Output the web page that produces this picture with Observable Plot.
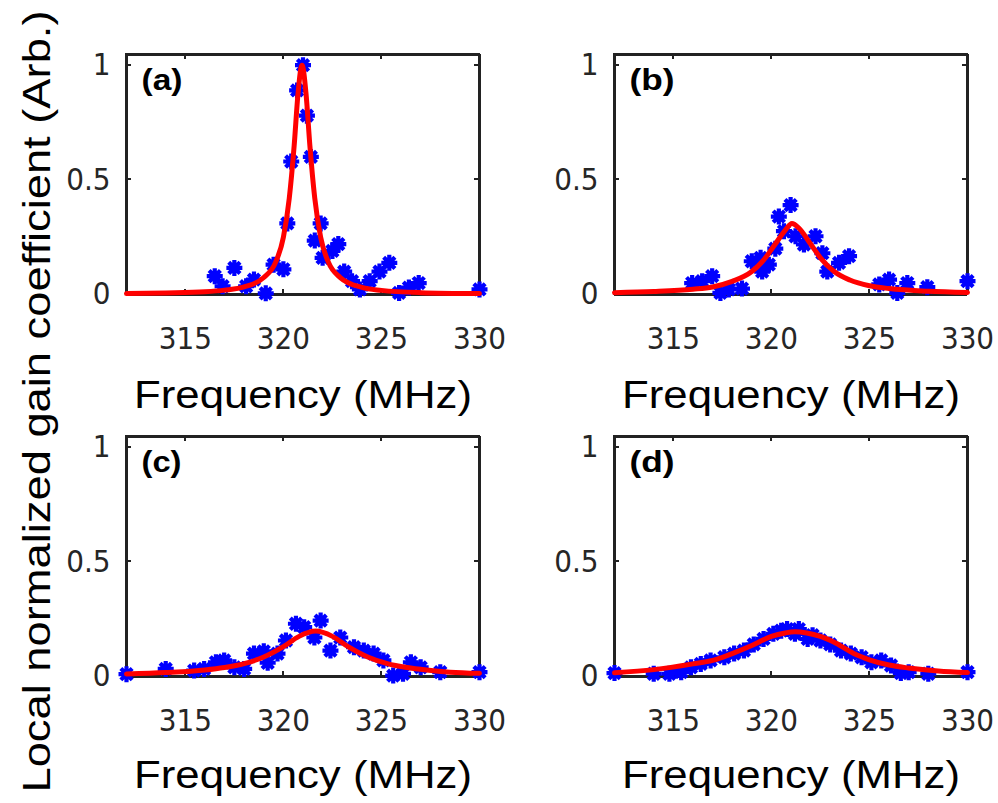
<!DOCTYPE html>
<html><head><meta charset="utf-8">
<script src="https://cdn.jsdelivr.net/npm/d3@7"></script>
<script src="https://cdn.jsdelivr.net/npm/@observablehq/plot@0.6"></script>
<style>
body{margin:0;background:#fff;}
#root{position:relative;width:998px;height:803px;overflow:hidden;background:#fff;}
.panel{position:absolute;}
</style></head><body><div id="root"></div>
<script>
// ---------- labels / ticks ----------
const xTicks = [315, 320, 325, 330];
const yTicks = [0, 0.5, 1];
const yTickLabels = ["0", "0.5", "1"];
const panelLabels = ["(a)", "(b)", "(c)", "(d)"];
const xLabel = "Frequency (MHz)";
const yLabel = "Local normalized gain coefficient (Arb.)";
const xDomain = [312, 330];
const yDomain = [0, 1.0467];

// ---------- panel (a) ----------
const freqA = [316.5,316.9,317.5,318.1,318.5,319.1,319.5,320.0,320.2,320.4,320.7,321.0,321.2,321.4,321.6,321.9,322.0,322.5,322.8,323.1,323.5,323.9,324.4,324.9,325.4,325.9,326.4,326.9,330.0];
const gainA = [0.08,0.036,0.116,0.036,0.065,0.005,0.13,0.11,0.31,0.58,0.89,1.0,0.78,0.6,0.235,0.31,0.16,0.19,0.22,0.1,0.058,0.022,0.058,0.1,0.138,0.007,0.03,0.05,0.022];
const fitFreqA = [312,314,316,317,318,319,319.6,320,320.3,320.55,320.75,320.95,321.15,321.35,321.6,321.9,322.3,322.9,324,325,327,330];
const fitGainA = [0.004,0.007,0.012,0.019,0.033,0.074,0.14,0.25,0.42,0.65,0.88,1.0,0.88,0.65,0.42,0.25,0.14,0.074,0.031,0.018,0.008,0.004];

// ---------- panel (b) ----------
const freqB = [315.96,316.47,316.98,317.4,317.83,318.5,319.0,319.45,319.53,319.87,320.2,320.38,320.98,320.64,321.23,321.66,322.25,322.6,322.85,323.45,323.96,325.5,326.0,326.42,326.93,327.95,330.0];
const gainB = [0.05,0.058,0.08,0.007,0.022,0.026,0.145,0.16,0.1,0.13,0.2,0.34,0.39,0.276,0.254,0.218,0.254,0.18,0.1,0.138,0.167,0.044,0.065,0.007,0.05,0.032,0.058];
const fitFreqB = [312,314,316,317,318,319,319.6,320.2,320.7,321.05,321.4,322,322.5,323.2,324,325,326,328,330];
const fitGainB = [0.008,0.013,0.023,0.033,0.057,0.1,0.15,0.22,0.28,0.31,0.29,0.22,0.16,0.1,0.063,0.038,0.026,0.014,0.009];

// ---------- panel (c) ----------
const freqC = [312.0,314.0,315.45,315.96,316.56,316.98,317.5,318.0,318.5,319.0,319.2,319.7,320.13,320.64,321.06,321.58,321.9,322.4,322.9,323.6,324.1,324.6,325.1,325.6,326.1,326.5,327.0,328.0,330.0];
const gainC = [0.01,0.033,0.026,0.033,0.062,0.07,0.04,0.033,0.1,0.11,0.06,0.1,0.157,0.23,0.215,0.17,0.244,0.113,0.17,0.128,0.113,0.1,0.07,0.004,0.012,0.062,0.04,0.019,0.019];
const fitFreqC = [312,314,316,317,318,319,320,320.8,321.65,322.5,323.3,324.3,325.3,326.3,327.3,328.5,330];
const fitGainC = [0.011,0.017,0.028,0.039,0.056,0.085,0.13,0.175,0.198,0.175,0.13,0.085,0.056,0.039,0.028,0.019,0.014];

// ---------- panel (d) ----------
const freqD = [312.0,314.0,314.8,315.4,315.9,316.4,316.9,317.6,318.1,318.6,319.1,319.6,320.1,320.5,320.8,321.2,321.4,321.85,322.1,322.5,323.0,323.55,324.05,324.6,325.1,325.6,326.1,326.6,327.0,328.0,330.0];
const gainD = [0.015,0.012,0.012,0.019,0.04,0.055,0.07,0.084,0.1,0.113,0.14,0.164,0.186,0.2,0.207,0.186,0.207,0.164,0.18,0.157,0.14,0.113,0.1,0.084,0.062,0.07,0.048,0.015,0.019,0.012,0.019];
const fitFreqD = [312,314,316,317,318,319,320,320.7,321.2,321.8,322.5,323.3,324.2,325,326,327,328.5,330];
const fitGainD = [0.016,0.03,0.055,0.07,0.1,0.135,0.175,0.19,0.195,0.19,0.175,0.145,0.1,0.073,0.05,0.037,0.024,0.017];

const panels = [
  {label: panelLabels[0], f: freqA, g: gainA, ff: fitFreqA, fg: fitGainA, left: 126, top: 54, bottomGap: 113, labW: 41},
  {label: panelLabels[1], f: freqB, g: gainB, ff: fitFreqB, fg: fitGainB, left: 614, top: 54, bottomGap: 113, labW: 45},
  {label: panelLabels[2], f: freqC, g: gainC, ff: fitFreqC, fg: fitGainC, left: 126, top: 436, bottomGap: 111, labW: 40},
  {label: panelLabels[3], f: freqD, g: gainD, ff: fitFreqD, fg: fitGainD, left: 614, top: 436, bottomGap: 111, labW: 45}
];

const star = {
  draw(context, size) {
    const r = Math.sqrt(size / Math.PI);
    const d = r * Math.SQRT1_2;
    context.moveTo(-r, 0); context.lineTo(r, 0);
    context.moveTo(0, -r); context.lineTo(0, r);
    context.moveTo(-d, -d); context.lineTo(d, d);
    context.moveTo(-d, d); context.lineTo(d, -d);
  }
};

const root = document.getElementById("root");
const ML = 80, MR = 20, MT = 20, MB = 125, FW = 353, FH = 240;
const tickFmt = d => yTickLabels[yTicks.indexOf(d)];
const inner = xTicks.filter(t => t > xDomain[0] && t < xDomain[1]);
const innerY = yTicks.filter(t => t > yDomain[0] && t < yDomain[1]);
const axisColor = "#222222";
const TL = 5; // tick length, px

for (const p of panels) {
  const n = p.f.length, m = p.ff.length;
  const chart = Plot.plot({
    width: ML + FW + MR,
    height: MT + FH + MB,
    marginLeft: ML, marginRight: MR, marginTop: MT, marginBottom: MB,
    style: {background: "transparent", overflow: "visible", maxWidth: "none", color: "#262626",
            fontFamily: "'DejaVu Sans Condensed', 'DejaVu Sans', sans-serif", fontSize: "31px"},
    x: {domain: xDomain},
    y: {domain: yDomain},
    marks: [
      Plot.axisX({ticks: xTicks, tickSize: 0, tickPadding: 32.5, label: null, tickFormat: d => String(d)}),
      Plot.axisY({ticks: yTicks, tickSize: 0, tickPadding: 16, label: null, tickFormat: tickFmt}),
      Plot.ruleX(xDomain, {stroke: axisColor, strokeWidth: 2, shapeRendering: "crispEdges"}),
      Plot.ruleY(yDomain, {stroke: axisColor, strokeWidth: 2, shapeRendering: "crispEdges"}),
      Plot.dot({length: n}, {x: p.f, y: p.g, symbol: star, r: 8, stroke: "#0000ff", strokeWidth: 4.2, fill: "none"}),
      Plot.line({length: m}, {x: p.ff, y: p.fg, stroke: "#ff0000", strokeWidth: 5, curve: "monotone-x"}),
      Plot.text([p.label], {frameAnchor: "top-left", dx: 15, dy: 35, lineAnchor: "bottom", textAnchor: "start",
        fontSize: 30, fontWeight: "bold", fontFamily: "'Liberation Sans', Arial, sans-serif", fill: "#000"}),
      Plot.text([xLabel], {frameAnchor: "bottom", dy: p.bottomGap, lineAnchor: "bottom", textAnchor: "middle",
        fontSize: 39, fontFamily: "'Liberation Sans', Arial, sans-serif", fill: "#000"})
    ]
  });
  chart.classList.add("panel");
  chart.style.left = (p.left - ML) + "px";
  chart.style.top = (p.top - MT) + "px";
  d3.select(chart).selectAll("text").each(function() {
    const t = this.textContent;
    if (t === xLabel) { this.setAttribute("textLength", 338); this.setAttribute("lengthAdjust", "spacingAndGlyphs"); }
    if (t === p.label) { this.setAttribute("textLength", p.labW); this.setAttribute("lengthAdjust", "spacingAndGlyphs"); }
  });

  // axes box and inward ticks, positioned through Plot's own scales
  try {
    const sx = chart.scale("x"), sy = chart.scale("y");
    const X0 = Math.round(sx.apply(xDomain[0])), X1 = Math.round(sx.apply(xDomain[1]));
    const Y0 = Math.round(sy.apply(yDomain[0])), Y1 = Math.round(sy.apply(yDomain[1]));
    const g = d3.create("svg:g").attr("stroke", axisColor).attr("fill", "none")
      .attr("stroke-width", 2).attr("shape-rendering", "crispEdges");
    g.append("rect").attr("x", X0).attr("y", Y1).attr("width", X1 - X0).attr("height", Y0 - Y1);
    for (const t of inner) {
      const xt = Math.round(sx.apply(t));
      g.append("line").attr("x1", xt).attr("x2", xt).attr("y1", Y0).attr("y2", Y0 - TL);
      g.append("line").attr("x1", xt).attr("x2", xt).attr("y1", Y1).attr("y2", Y1 + TL);
    }
    for (const t of innerY) {
      const yt = Math.round(sy.apply(t));
      g.append("line").attr("x1", X0).attr("x2", X0 + TL).attr("y1", yt).attr("y2", yt);
      g.append("line").attr("x1", X1).attr("x2", X1 - TL).attr("y1", yt).attr("y2", yt);
    }
    const dotG = Array.from(chart.children).find(el => el.getAttribute && el.getAttribute("aria-label") === "dot");
    if (dotG) chart.insertBefore(g.node(), dotG); else chart.appendChild(g.node());
  } catch (e) { /* keep the plot even if the overlay fails */ }
  root.appendChild(chart);
}

// shared y-axis label
const ysvg = d3.create("svg").attr("width", 70).attr("height", 803)
  .style("position", "absolute").style("left", "0px").style("top", "0px").style("overflow", "visible");
ysvg.append("text")
  .attr("transform", "translate(50,401.5) rotate(-90)")
  .attr("text-anchor", "middle")
  .attr("font-family", "'Liberation Sans', Arial, sans-serif")
  .attr("font-size", 39)
  .attr("fill", "#000")
  .attr("textLength", 782)
  .attr("lengthAdjust", "spacingAndGlyphs")
  .text(yLabel);
root.appendChild(ysvg.node());
</script>
</body></html>
